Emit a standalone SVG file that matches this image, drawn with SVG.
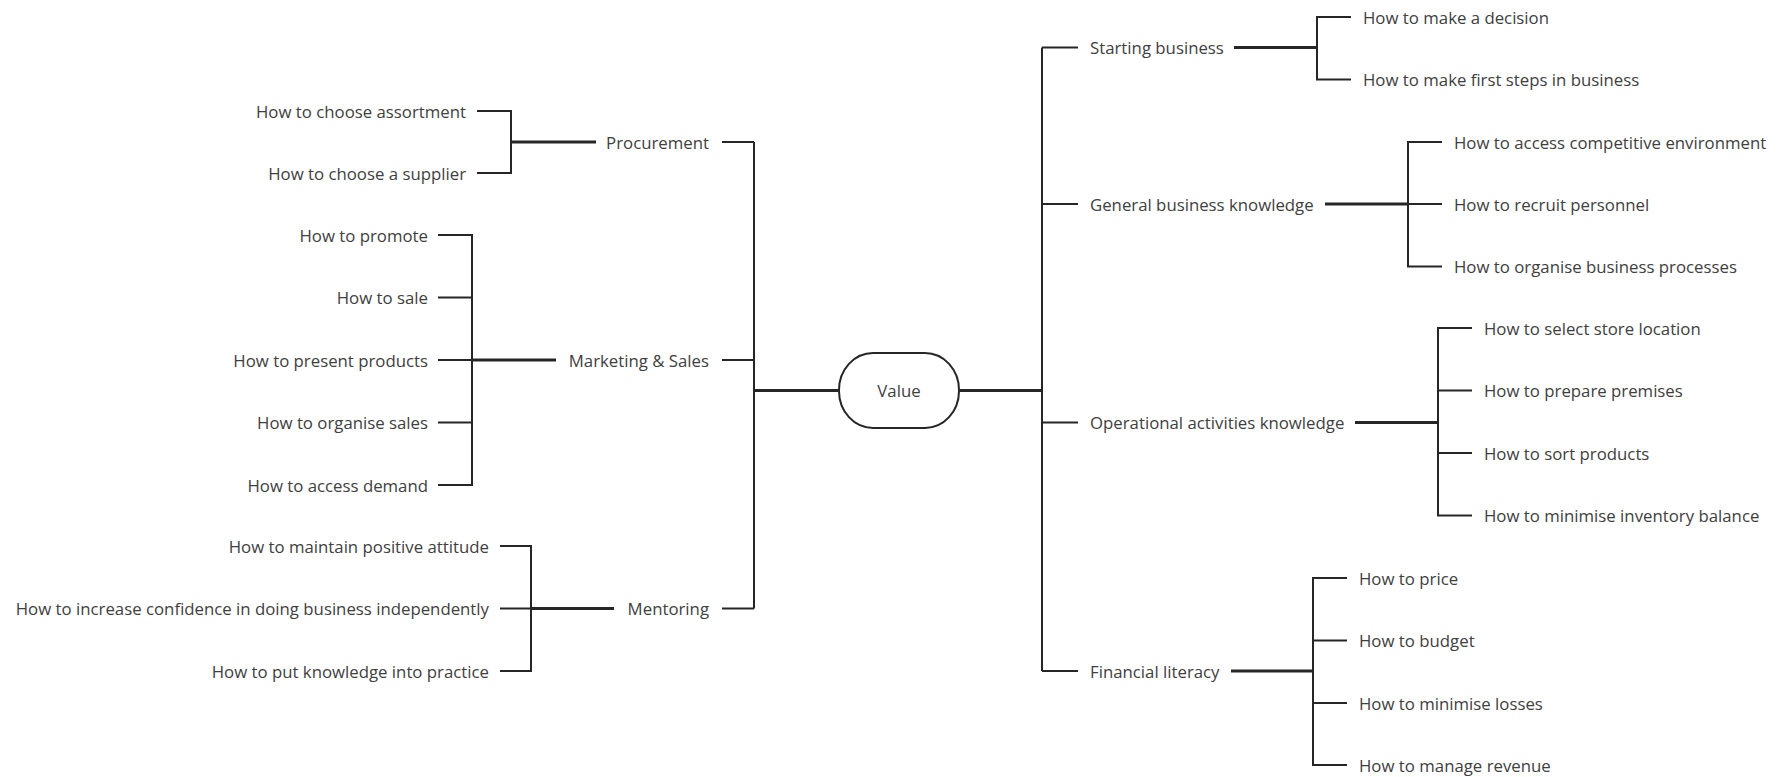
<svg xmlns="http://www.w3.org/2000/svg" width="1780" height="777" viewBox="0 0 1780 777">
  <style>
    .bg { fill: #ffffff; }
    .ln { fill: none; stroke: #262626; stroke-width: 2; stroke-linejoin: miter; }
    .lk { fill: none; stroke: #262626; stroke-width: 3; }
    text { font-family: "Open Sans", "Liberation Sans", sans-serif; font-size: 16.8px; fill: #404040; dominant-baseline: central; }
    .r { text-anchor: end; }
    .c { text-anchor: middle; }
    .hub { fill: #ffffff; stroke: #262626; stroke-width: 2; }
  </style>
  <rect class="bg" x="0" y="0" width="1780" height="777"/>

  <!-- connectors -->
  <g id="connectors">
    <!-- left side -->
    <path class="ln" d="M477,111 H511 V173 H477"/>
    <path class="lk" d="M511,142 H596"/>
    <path class="ln" d="M722,142 H754"/>
    <path class="ln" d="M754,142 V608.5"/>

    <path class="ln" d="M438,235 H472 V485 H438"/>
    <path class="ln" d="M438,297.5 H472 M438,360 H472 M438,422.5 H472"/>
    <path class="lk" d="M472,360 H556"/>
    <path class="ln" d="M722,360 H754"/>

    <path class="ln" d="M500,546 H531 V671 H500"/>
    <path class="ln" d="M500,608.5 H531"/>
    <path class="lk" d="M531,608.5 H614"/>
    <path class="ln" d="M722,608.5 H754"/>

    <path class="lk" d="M754,390.5 H838"/>
    <path class="lk" d="M960,390.5 H1042"/>

    <!-- right side -->
    <path class="ln" d="M1042,47.5 V671"/>
    <path class="ln" d="M1042,47.5 H1078 M1042,204 H1078 M1042,422.5 H1078 M1042,671 H1078"/>

    <path class="lk" d="M1234,47.5 H1317"/>
    <path class="ln" d="M1351,17 H1317 V79.5 H1351"/>

    <path class="lk" d="M1325,204 H1408"/>
    <path class="ln" d="M1442,142 H1408 V266.5 H1442"/>
    <path class="ln" d="M1408,204 H1442"/>

    <path class="lk" d="M1355,422.5 H1438"/>
    <path class="ln" d="M1472,328 H1438 V515.5 H1472"/>
    <path class="ln" d="M1438,390.5 H1472 M1438,453 H1472"/>

    <path class="lk" d="M1231,671 H1313"/>
    <path class="ln" d="M1347,578 H1313 V765 H1347"/>
    <path class="ln" d="M1313,640.5 H1347 M1313,703 H1347"/>
  </g>

  <!-- central node -->
  <g id="value">
    <rect class="hub" x="839" y="353" width="120" height="75" rx="34" ry="37"/>
    <text class="c" x="899" y="390.5">Value</text>
  </g>

  <!-- left branches -->
  <g id="procurement"><text class="r" x="709" y="142">Procurement</text></g>
  <g id="choose-assortment"><text class="r" x="466" y="111">How to choose assortment</text></g>
  <g id="choose-supplier"><text class="r" x="466" y="173">How to choose a supplier</text></g>

  <g id="marketing-sales"><text class="r" x="709" y="360">Marketing &amp; Sales</text></g>
  <g id="promote"><text class="r" x="428" y="235">How to promote</text></g>
  <g id="sale"><text class="r" x="428" y="297.5">How to sale</text></g>
  <g id="present-products"><text class="r" x="428" y="360">How to present products</text></g>
  <g id="organise-sales"><text class="r" x="428" y="422.5">How to organise sales</text></g>
  <g id="access-demand"><text class="r" x="428" y="485">How to access demand</text></g>

  <g id="mentoring"><text class="r" x="709" y="608.5">Mentoring</text></g>
  <g id="positive-attitude"><text class="r" x="489" y="546">How to maintain positive attitude</text></g>
  <g id="confidence"><text class="r" x="489" y="608.5">How to increase confidence in doing business independently</text></g>
  <g id="knowledge-practice"><text class="r" x="489" y="671">How to put knowledge into practice</text></g>

  <!-- right branches -->
  <g id="starting-business"><text x="1090" y="47.5">Starting business</text></g>
  <g id="make-decision"><text x="1363" y="17">How to make a decision</text></g>
  <g id="first-steps"><text x="1363" y="79.5">How to make first steps in business</text></g>

  <g id="general-knowledge"><text x="1090" y="204">General business knowledge</text></g>
  <g id="competitive-environment"><text x="1454" y="142">How to access competitive environment</text></g>
  <g id="recruit-personnel"><text x="1454" y="204">How to recruit personnel</text></g>
  <g id="business-processes"><text x="1454" y="266.5">How to organise business processes</text></g>

  <g id="operational-knowledge"><text x="1090" y="422.5">Operational activities knowledge</text></g>
  <g id="store-location"><text x="1484" y="328">How to select store location</text></g>
  <g id="prepare-premises"><text x="1484" y="390.5">How to prepare premises</text></g>
  <g id="sort-products"><text x="1484" y="453">How to sort products</text></g>
  <g id="inventory-balance"><text x="1484" y="515.5">How to minimise inventory balance</text></g>

  <g id="financial-literacy"><text x="1090" y="671">Financial literacy</text></g>
  <g id="price"><text x="1359" y="578">How to price</text></g>
  <g id="budget"><text x="1359" y="640.5">How to budget</text></g>
  <g id="minimise-losses"><text x="1359" y="703">How to minimise losses</text></g>
  <g id="manage-revenue"><text x="1359" y="765">How to manage revenue</text></g>
</svg>
